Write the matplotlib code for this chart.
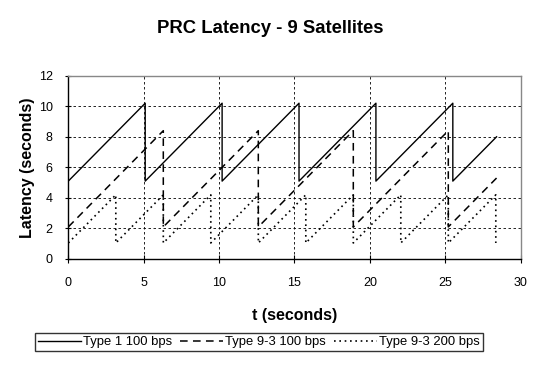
import numpy as np
import matplotlib
matplotlib.use('Agg')
import matplotlib.pyplot as plt

plt.rcParams['font.family'] = ['Liberation Sans', 'DejaVu Sans']

# Type 1 100 bps (saw-tooth, resets every 5.1 s)
t_type1 = [0, 5.1, 5.1, 10.2, 10.2, 15.3, 15.3, 20.4, 20.4, 25.5, 25.5, 28.4]
lat_type1 = [5.1, 10.2, 5.1, 10.2, 5.1, 10.2, 5.1, 10.2, 5.1, 10.2, 5.1, 8.0]

# Type 9-3 100 bps (resets every 6.3 s)
t_93_100 = [0, 6.3, 6.3, 12.6, 12.6, 18.9, 18.9, 25.2, 25.2, 28.4]
lat_93_100 = [2.1, 8.4, 2.1, 8.4, 2.1, 8.4, 2.1, 8.4, 2.1, 5.3]

# Type 9-3 200 bps (resets every 3.15 s)
t_93_200 = [0, 3.15, 3.15, 6.3, 6.3, 9.45, 9.45, 12.6, 12.6, 15.75, 15.75,
            18.9, 18.9, 22.05, 22.05, 25.2, 25.2, 28.35, 28.35]
lat_93_200 = [1.05, 4.2, 1.05, 4.2, 1.05, 4.2, 1.05, 4.2, 1.05, 4.2, 1.05,
              4.2, 1.05, 4.2, 1.05, 4.2, 1.05, 4.2, 1.05]

labels = ['Type 1 100 bps', 'Type 9-3 100 bps', 'Type 9-3 200 bps']

fig = plt.figure(figsize=(5.43, 3.67), dpi=100)
ax = fig.add_axes([0.1258, 0.2943, 0.9589 - 0.1258, 0.7937 - 0.2943])

ax.plot(t_type1, lat_type1, color='black', lw=1.0, label=labels[0])
ax.plot(t_93_100, lat_93_100, color='black', lw=1.1, linestyle=(0, (5, 3.5)), label=labels[1])
ax.plot(t_93_200, lat_93_200, color='black', lw=1.2, linestyle=(0, (1, 2.2)), label=labels[2])

ax.set_xlim(0, 30)
ax.set_ylim(0, 12)
ax.set_xticks(np.arange(0, 31, 5))
ax.set_yticks(np.arange(0, 13, 2))
ax.grid(True, color='black', linestyle=(0, (3, 3)), lw=0.6)
ax.set_axisbelow(True)

for s in ['top', 'right']:
    ax.spines[s].set_color('#888888')
    ax.spines[s].set_linewidth(1.0)
for s in ['left', 'bottom']:
    ax.spines[s].set_color('black')
    ax.spines[s].set_linewidth(1.0)

ax.tick_params(axis='y', direction='inout', length=4.5, labelsize=9, pad=9)
ax.tick_params(axis='x', direction='inout', length=6, labelsize=9, pad=10)

ax.set_xlabel('t (seconds)', fontsize=11.5, fontweight='bold', labelpad=14)
ax.set_ylabel('Latency (seconds)', fontsize=11.5, fontweight='bold', labelpad=3)
fig.suptitle('PRC Latency - 9 Satellites', x=0.497, y=0.945, fontsize=13.3, fontweight='bold')

leg = fig.legend(loc='center', bbox_to_anchor=(0.477, 0.068), ncol=3, fontsize=9.4,
                 handlelength=3.3, handletextpad=0.15, columnspacing=0.6,
                 fancybox=False, frameon=True, borderpad=0.25, borderaxespad=0)
leg.get_frame().set_edgecolor('black')
leg.get_frame().set_linewidth(1.0)

fig.savefig('out.png', dpi=100)
